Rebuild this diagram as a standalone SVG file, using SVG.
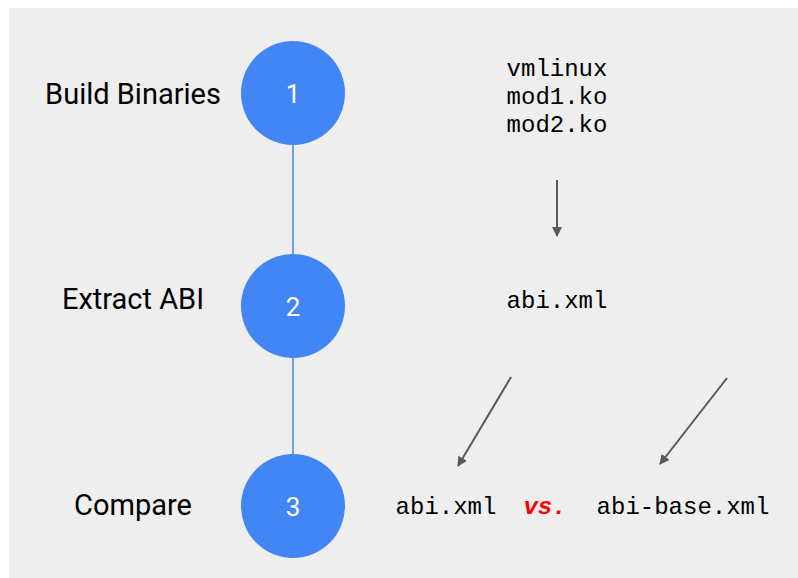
<svg xmlns="http://www.w3.org/2000/svg" width="798" height="578" viewBox="0 0 798 578">
<defs>
<style>
.bg{fill:#eeeeee}
.step{fill:#4285f4}
.num{fill:#ffffff;font-family:Roboto,"Liberation Sans",sans-serif;font-size:26px;text-anchor:middle}
.lbl{fill:#000000;font-family:Roboto,"Liberation Sans",sans-serif;font-size:29px;text-anchor:middle}
.mono{fill:#000000;font-family:"Liberation Mono","DejaVu Sans Mono",monospace;font-size:24px;text-anchor:middle}
.vs{fill:#ff0000;font-family:"Liberation Mono","DejaVu Sans Mono",monospace;font-size:24px;font-weight:bold;font-style:italic;text-anchor:middle}
.tl{stroke:#6d9eeb;stroke-width:2;fill:none}
.ar{stroke:#595959;stroke-width:2;fill:none;marker-end:url(#ah)}
</style>
<marker id="ah" viewBox="0 0 10 10" refX="9" refY="5" markerWidth="5" markerHeight="5" orient="auto" markerUnits="strokeWidth">
<path d="M0,0 L10,5 L0,10 z" fill="#595959"/>
</marker>
</defs>
<rect class="bg" x="9" y="8" width="789" height="570"/>
<g id="connectors">
<line class="tl" x1="293" y1="145" x2="293" y2="254"/>
<line class="tl" x1="293" y1="358" x2="293" y2="454"/>
<line class="ar" x1="557" y1="180" x2="557" y2="236"/>
<line class="ar" x1="511" y1="377" x2="458" y2="466"/>
<line class="ar" x1="727" y1="378" x2="660" y2="464"/>
</g>
<g id="step1">
<text class="lbl" x="133" y="104">Build Binaries</text>
<circle class="step" cx="293" cy="93" r="52"/>
<text class="num" x="293" y="103">1</text>
</g>
<g id="step2">
<text class="lbl" x="133" y="309">Extract ABI</text>
<circle class="step" cx="293" cy="306" r="52"/>
<text class="num" x="293" y="316">2</text>
</g>
<g id="step3">
<text class="lbl" x="133" y="515">Compare</text>
<circle class="step" cx="293" cy="506" r="52"/>
<text class="num" x="293" y="516">3</text>
</g>
<g id="binaries">
<text class="mono" x="557" y="76">vmlinux</text>
<text class="mono" x="557" y="104">mod1.ko</text>
<text class="mono" x="557" y="132">mod2.ko</text>
</g>
<g id="abi">
<text class="mono" x="557" y="308">abi.xml</text>
</g>
<g id="compare">
<text class="mono" x="446" y="514">abi.xml</text>
<text class="vs" x="545" y="514">vs.</text>
<text class="mono" x="683" y="514">abi-base.xml</text>
</g>
</svg>
